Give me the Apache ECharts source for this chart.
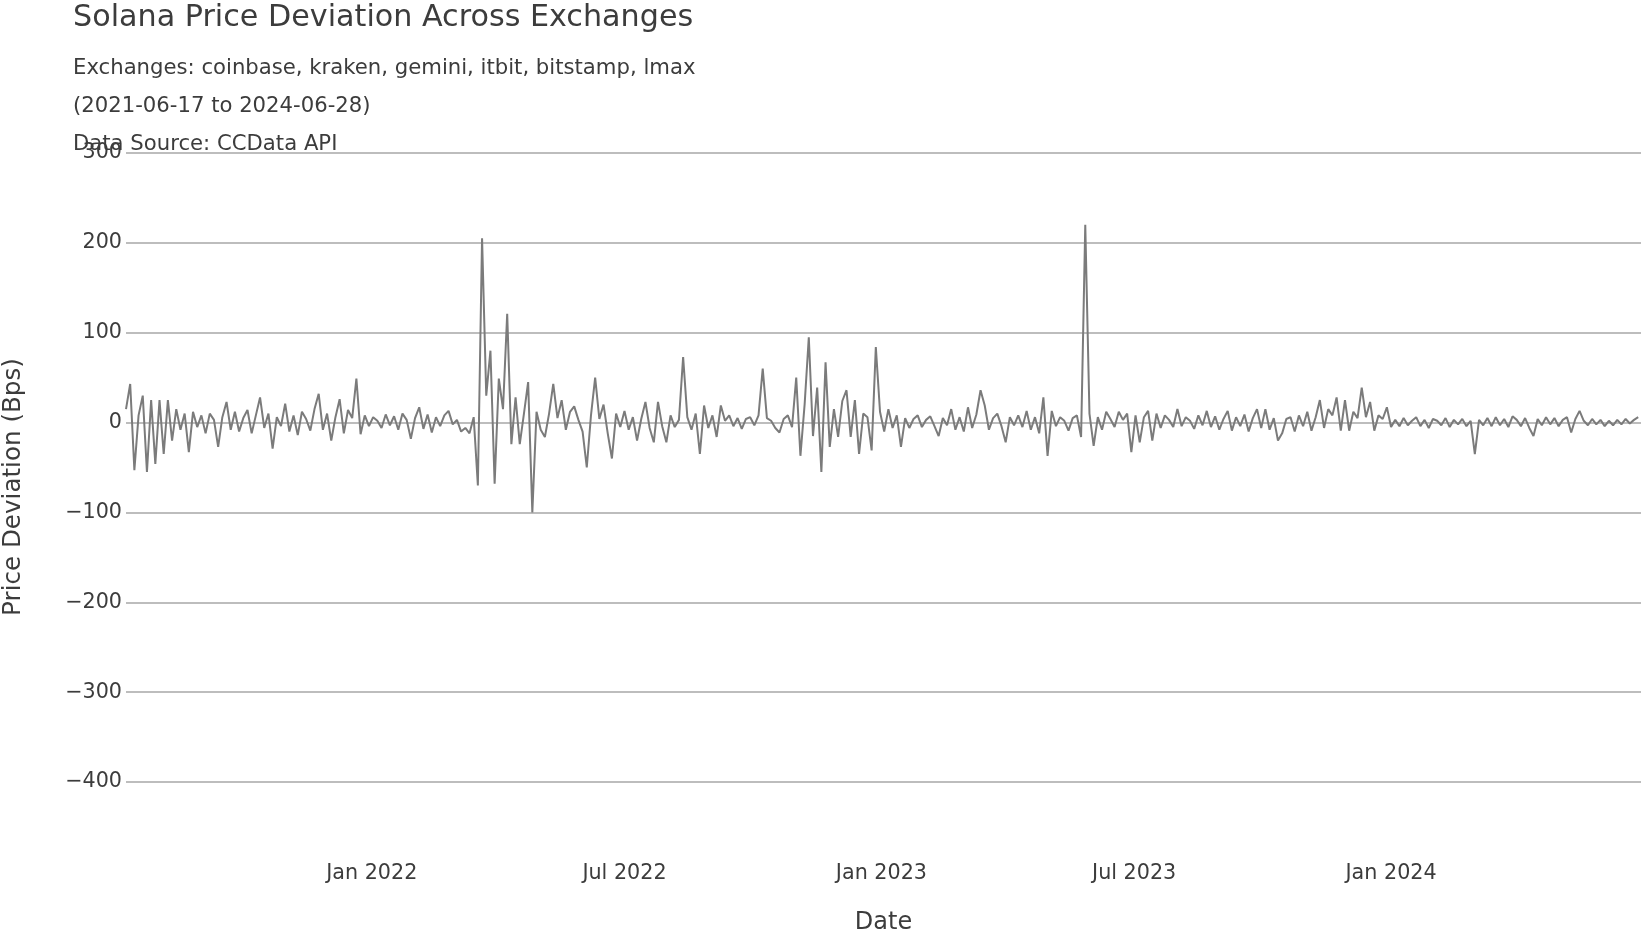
<!DOCTYPE html>
<html>
<head>
<meta charset="utf-8">
<script src="https://cdn.jsdelivr.net/npm/echarts@6.0.0/dist/echarts.min.js"></script>
<style>
html,body{margin:0;padding:0;background:#fff;}
#chart{width:1643px;height:933px;}
</style>
</head>
<body>
<div id="chart"></div>
<script>
// ---- data ----
const titleText = 'Solana Price Deviation Across Exchanges';
const subtitleLines = [
  'Exchanges: coinbase, kraken, gemini, itbit, bitstamp, lmax',
  '(2021-06-17 to 2024-06-28)',
  'Data Source: CCData API'
];
const xAxisTitle = 'Date';
const yAxisTitle = 'Price Deviation (Bps)';
const startDate = [2021, 7, 9];     // first sample (year, month, day)
const endDate = [2024, 6, 28];      // axis end
const stepDays = 3;                 // spacing of samples
const tickDates = [[2022,1,1],[2022,7,1],[2023,1,1],[2023,7,1],[2024,1,1]];
const monthNames = ['Jan','Feb','Mar','Apr','May','Jun','Jul','Aug','Sep','Oct','Nov','Dec'];
const yTicks = {min: -400, max: 300, step: 100};
// price deviation (bps), one per sample
const deviation = [
  15, 43, -53, 8, 30, -55, 25, -46, 25, -35,
  25, -20, 15, -8, 10, -33, 12, -5, 8, -12,
  10, 3, -27, 6, 23, -8, 12, -10, 5, 14,
  -12, 8, 28, -6, 10, -29, 6, -4, 21, -10,
  8, -14, 12, 4, -9, 15, 32, -8, 10, -20,
  6, 26, -12, 14, 5, 49, -13, 8, -4, 6,
  2, -6, 9, -3, 7, -8, 10, 3, -18, 5,
  17, -7, 9, -11, 6, -4, 8, 13, -2, 3,
  -10, -6, -12, 6, -70, 205, 30, 80, -68, 49,
  15, 121, -24, 28, -24, 10, 45, -100, 12, -8,
  -16, 10, 43, 5, 25, -8, 12, 18, 3, -10,
  -50, 8, 50, 4, 20, -12, -40, 10, -5, 13,
  -8, 6, -20, 4, 23, -6, -22, 23, -4, -22,
  8, -5, 3, 73, 6, -8, 10, -35, 19, -6,
  8, -16, 19, 2, 8, -4, 5, -7, 4, 6,
  -3, 8, 60, 5, 2, -6, -11, 4, 8, -5,
  50, -37, 20, 95, -15, 39, -55, 67, -27, 15,
  -16, 24, 36, -16, 25, -35, 10, 6, -31, 84,
  12, -10, 15, -6, 8, -27, 5, -6, 4, 8,
  -5, 3, 7, -4, -15, 5, -3, 15, -8, 6,
  -10, 17, -6, 9, 36, 19, -8, 5, 10, -4,
  -22, 6, -3, 8, -5, 13, -8, 6, -12, 28,
  -37, 13, -4, 6, 2, -9, 5, 8, -16, 220,
  10, -26, 6, -8, 12, 4, -5, 12, 3, 10,
  -33, 8, -22, 6, 13, -20, 10, -6, 8, 3,
  -5, 15, -4, 6, 2, -7, 8, -3, 13, -5,
  7, -8, 4, 13, -9, 6, -4, 9, -10, 5,
  15, -6, 15, -8, 5, -20, -12, 4, 6, -10,
  8, -4, 12, -9, 6, 25, -6, 15, 8, 28,
  -9, 25, -9, 12, 5, 39, 6, 23, -9, 8,
  4, 17, -5, 3, -4, 5, -3, 2, 6, -4,
  3, -6, 4, 2, -3, 5, -5, 3, -2, 4,
  -4, 2, -35, 3, -3, 5, -4, 6, -3, 4,
  -5, 7, 3, -4, 5, -6, -15, 4, -3, 6,
  -2, 5, -4, 3, 6, -11, 4, 13, 2, -3,
  4, -2, 3, -4, 2, -3, 3, -2, 4, -1,
  3, 6
];

// ---- build ----
const DAY = 86400000;
const utc = (d) => Date.UTC(d[0], d[1] - 1, d[2]);
const t0 = utc(startDate);
const seriesData = deviation.map((v, i) => [t0 + i * stepDays * DAY, v]);
const tickValues = tickDates.map(utc);

const FONT = '"DejaVu Sans", Verdana, sans-serif';
const TEXT = '#3c3c3c';

const chart = echarts.init(document.getElementById('chart'), null, {renderer: 'canvas'});
chart.setOption({
  animation: false,
  backgroundColor: '#ffffff',
  textStyle: {fontFamily: FONT},
  title: [
    {
      text: titleText, left: 73, top: 3, padding: 0,
      textStyle: {fontFamily: FONT, fontSize: 30.2, fontWeight: 'normal', color: TEXT}
    },
    {
      text: subtitleLines.join('\n'), left: 73, top: 49, padding: 0,
      textStyle: {fontFamily: FONT, fontSize: 21.2, fontWeight: 'normal', color: TEXT, lineHeight: 38.2}
    }
  ],
  grid: {left: 126, right: 2, top: 153, bottom: 151, containLabel: false, outerBoundsMode: 'none'},
  xAxis: {
    type: 'value',
    min: t0,
    max: utc(endDate),
    scale: true,
    name: xAxisTitle,
    nameLocation: 'middle',
    nameGap: 129,
    nameTextStyle: {fontFamily: FONT, fontSize: 24, color: TEXT},
    axisLine: {show: false},
    axisTick: {show: false},
    splitLine: {show: false},
    axisLabel: {
      customValues: tickValues,
      showMinLabel: true,
      showMaxLabel: true,
      margin: 81,
      fontFamily: FONT, fontSize: 20.7, color: TEXT,
      formatter: (v) => { const d = new Date(v); return monthNames[d.getUTCMonth()] + ' ' + d.getUTCFullYear(); }
    }
  },
  yAxis: {
    type: 'value',
    min: yTicks.min, max: yTicks.max, interval: yTicks.step,
    axisLine: {show: false},
    axisTick: {show: false},
    splitLine: {show: true, lineStyle: {color: '#bdbdbd', width: 2}},
    axisLabel: {
      margin: 4,
      fontFamily: FONT, fontSize: 20.7, color: TEXT,
      formatter: (v) => String(v).replace('-', '\u2212')
    }
  },
  graphic: [{
    type: 'text',
    x: 14, y: 487,
    rotation: Math.PI / 2,
    style: {text: yAxisTitle, fontFamily: FONT, fontSize: 24.6, fill: TEXT, align: 'center', verticalAlign: 'middle'}
  }],
  series: [{
    type: 'line',
    data: seriesData,
    showSymbol: false,
    symbol: 'none',
    lineStyle: {color: '#7b7b7b', width: 2},
    z: 3
  }]
});
</script>
</body>
</html>
